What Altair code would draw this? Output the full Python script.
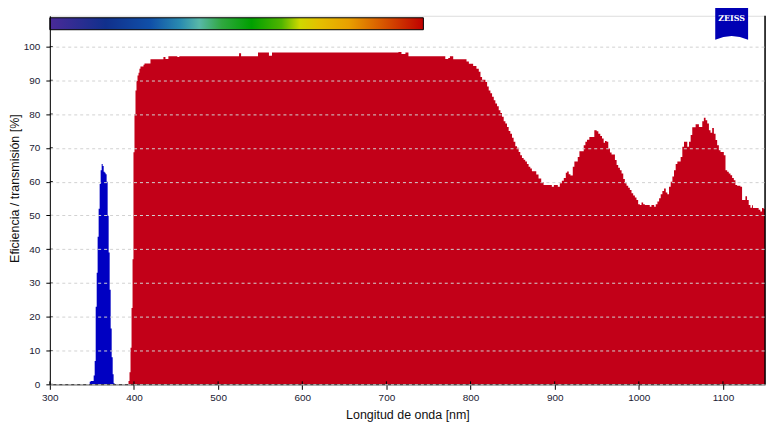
import altair as alt
import pandas as pd

# ---- data ----
red_nm = [393.5, 394.7, 395.9, 397.1, 398.3, 399.4, 400.6, 401.8, 403.0, 404.2, 405.4, 406.5, 407.7, 411.3,
          412.5, 419.6, 435.0, 437.4, 440.9, 451.5, 453.9, 524.9, 527.3, 547.4, 560.4, 564.0, 714.3, 717.9,
          722.6, 726.2, 770.0, 773.5, 775.5, 779.4, 795.2, 798.0, 803.1, 807.0, 809.8, 811.8, 813.7, 817.7,
          819.7, 821.6, 823.6, 825.6, 827.6, 829.5, 831.5, 833.5, 835.5, 837.4, 839.4, 841.4, 843.3, 845.3,
          847.3, 849.3, 851.2, 853.2, 855.2, 857.2, 859.1, 861.1, 863.1, 865.0, 867.0, 869.0, 871.0, 872.9,
          878.1, 880.8, 884.0, 886.8, 896.6, 899.0, 903.7, 906.1, 908.5, 910.8, 913.2, 914.8, 916.7, 918.7,
          921.5, 923.4, 927.4, 929.4, 934.5, 936.5, 938.4, 941.2, 947.1, 949.9, 951.9, 954.2, 956.2, 958.2,
          959.8, 961.7, 963.7, 965.7, 967.6, 971.6, 973.6, 975.5, 977.5, 979.5, 981.5, 983.4, 985.4, 987.4,
          989.3, 991.3, 993.3, 995.3, 997.2, 999.2, 1001.2, 1003.2, 1005.1, 1007.1, 1013.0, 1015.0, 1018.2,
          1020.1, 1022.1, 1024.1, 1026.0, 1028.0, 1030.0, 1032.0, 1033.9, 1035.9, 1037.9, 1039.9, 1041.8,
          1043.8, 1045.8, 1049.7, 1051.7, 1053.7, 1057.6, 1059.6, 1061.6, 1063.5, 1067.5, 1071.4, 1075.4,
          1077.3, 1079.3, 1081.3, 1083.3, 1085.2, 1087.2, 1089.2, 1091.2, 1093.1, 1095.1, 1097.1, 1101.0,
          1103.0, 1105.0, 1106.9, 1108.9, 1110.9, 1112.9, 1114.8, 1116.8, 1120.7, 1122.7, 1124.7, 1126.7,
          1128.6, 1130.6, 1132.6, 1134.6, 1135.7, 1142.4, 1144.4, 1146.4, 1148.4, 1150.0]
red_val = [1.0, 3.6, 10.8, 22.6, 37.0, 68.7, 80.0, 87.0, 89.8, 91.4, 92.2, 93.4, 94.1, 94.6,
           95.0, 96.2, 96.9, 96.3, 97.1, 96.9, 97.1, 98.0, 97.1, 98.2, 97.3, 98.2, 98.4, 97.8,
           98.2, 97.1, 96.3, 96.6, 97.1, 96.2, 95.6, 94.9, 94.2, 93.4, 92.5, 91.0, 90.2, 89.5,
           88.2, 87.0, 86.2, 85.1, 84.1, 83.1, 82.3, 81.1, 80.3, 79.2, 77.9, 77.2, 76.2, 75.0,
           74.2, 73.0, 71.8, 70.5, 70.0, 68.8, 67.8, 67.0, 66.5, 66.0, 65.2, 64.4, 63.9, 63.1,
           62.1, 60.9, 59.9, 59.0, 58.5, 59.0, 58.5, 59.5, 60.3, 61.1, 62.6, 63.0, 62.2, 61.8,
           64.4, 66.0, 67.3, 69.0, 70.8, 71.8, 72.4, 73.2, 75.2, 74.9, 74.2, 73.5, 72.8, 71.5,
           72.0, 71.8, 69.8, 68.6, 68.0, 66.4, 64.9, 64.1, 63.4, 62.4, 60.8, 59.5, 58.8, 58.2,
           57.5, 56.6, 55.9, 55.3, 54.6, 53.3, 53.1, 53.8, 53.3, 53.1, 52.6, 53.1, 52.6,
           53.3, 54.1, 55.1, 56.3, 57.2, 58.0, 56.8, 56.3, 58.5, 60.0, 61.5, 63.4,
           65.2, 66.0, 67.3, 70.3, 71.8, 70.3, 71.8, 73.8, 76.1, 77.0, 76.2, 77.9,
           78.9, 78.2, 77.2, 75.2, 74.5, 75.9, 74.2, 72.3, 70.8, 69.3, 68.8, 67.8,
           63.4, 62.9, 62.4, 61.9, 61.1, 60.4, 59.0, 58.8, 58.5, 54.6, 54.6, 55.7,
           54.6, 53.1, 52.3, 53.0, 52.2, 51.7, 51.2, 52.2, 51.9, 51.9]

blue_nm = [347.4, 348.5, 349.7, 350.9, 352.1, 353.3, 354.5, 355.7, 356.8, 358.0, 359.2, 360.4, 361.6,
           362.8, 364.0, 365.2, 366.3, 367.5, 368.7, 369.9, 371.1, 372.3, 373.5, 374.7, 375.8, 376.9]
blue_val = [0.8, 1.0, 1.0, 1.0, 2.6, 6.9, 23.0, 33.0, 43.7, 52.0, 59.3, 63.4, 65.2,
            64.6, 62.9, 62.6, 62.2, 60.0, 49.9, 39.0, 28.0, 16.5, 8.0, 3.0, 0.3, 0.0]

x_ticks = [300, 400, 500, 600, 700, 800, 900, 1000, 1100]
y_ticks = [0, 10, 20, 30, 40, 50, 60, 70, 80, 90, 100]

x_title = "Longitud de onda [nm]"
y_title = "Eficiencia / transmisión [%]"
logo_text = "ZEISS"

# ---- layout / style ----
W, H = 718, 370
FONT = "Liberation Sans"
TXT = "#1a1a33"
RED = "#c20018"
BLUE = "#0000c2"

red_df = pd.DataFrame({"nm": red_nm, "val": red_val})
blue_df = pd.DataFrame({"nm": blue_nm, "val": blue_val})
xt_df = pd.DataFrame({"nm": x_ticks})
yt_df = pd.DataFrame({"val": y_ticks})
one = pd.DataFrame({"a": [0]})

xscale = alt.Scale(domain=[300, 1150], nice=False, zero=False)
yscale = alt.Scale(domain=[0, 109.1], nice=False)

xaxis = alt.Axis(values=x_ticks, format="d", grid=False, domainColor="black", tickColor="black",
                 tickSize=5, labelPadding=3, labelFont=FONT, labelFontSize=10, labelColor=TXT,
                 labelOverlap=False, labelFlush=False,
                 title=x_title, titleFont=FONT, titleFontSize=12.5, titleFontWeight="normal",
                 titleColor="#111111", titlePadding=6)
yaxis = alt.Axis(values=y_ticks, format="d", grid=True, gridColor="#d2d2d2",
                 gridDash=[3, 3], domainColor="black", tickColor="black", tickSize=4, labelPadding=6,
                 labelFont=FONT, labelFontSize=10, labelColor=TXT,
                 labelOverlap=False, labelFlush=False,
                 title=y_title, titleFont=FONT, titleFontSize=12.5, titleFontWeight="normal",
                 titleColor="#111111", titleX=-35, titleY=173, titleAngle=-90,
                 titleAlign="center", titleBaseline="middle", zindex=1)

X = alt.X("nm:Q", scale=xscale, axis=xaxis)
Y = alt.Y("val:Q", scale=yscale, axis=yaxis)

red = alt.Chart(red_df).mark_area(color=RED, interpolate="step-after", clip=True).encode(x=X, y=Y)
blue = alt.Chart(blue_df).mark_area(color=BLUE, interpolate="step-after", clip=True).encode(x=X, y=Y)

xin = alt.Chart(xt_df).mark_rule(color="black").encode(
    x=X, y=alt.value(H - 3), y2=alt.value(H))
yin = alt.Chart(yt_df).mark_rule(color="black").encode(
    y=Y, x=alt.value(0), x2=alt.value(3))

right_border = alt.Chart(one).mark_rule(color="black", strokeWidth=1.5).encode(
    x=alt.value(W), y=alt.value(0), y2=alt.value(H))

grad = alt.Gradient(
    gradient="linear", x1=0, x2=1, y1=0, y2=0,
    stops=[
        alt.GradientStop(color="#4a2a98", offset=0.0),
        alt.GradientStop(color="#10308c", offset=0.15),
        alt.GradientStop(color="#1050a8", offset=0.27),
        alt.GradientStop(color="#2a8cb0", offset=0.35),
        alt.GradientStop(color="#58b8a8", offset=0.40),
        alt.GradientStop(color="#30a840", offset=0.46),
        alt.GradientStop(color="#00a000", offset=0.54),
        alt.GradientStop(color="#50b400", offset=0.62),
        alt.GradientStop(color="#d0d800", offset=0.67),
        alt.GradientStop(color="#e4c000", offset=0.72),
        alt.GradientStop(color="#e8a000", offset=0.80),
        alt.GradientStop(color="#d85800", offset=0.89),
        alt.GradientStop(color="#c00000", offset=1.0),
    ],
)
spectrum = alt.Chart(one).mark_rect(fill=grad, stroke="black", strokeWidth=1).encode(
    x=alt.value(0), x2=alt.value(375), y=alt.value(2), y2=alt.value(14))

logo_shape = "M-1,-1 L1,-1 L1,1 Q0,0.55 -1,1 Z"
logo = alt.Chart(one).mark_point(shape=logo_shape, filled=True, fill="#0000b4", opacity=1,
                                 strokeWidth=0, size=1089).encode(
    x=alt.value(684.5), y=alt.value(7.5))
logo_txt = alt.Chart(one).mark_text(text=logo_text, font="DejaVu Serif", fontWeight="bold",
                                    fontSize=8, color="white", align="center",
                                    baseline="middle").encode(
    x=alt.value(684.5), y=alt.value(3.5))

chart = alt.layer(red, blue, xin, yin, right_border, spectrum, logo, logo_txt).properties(
    width=W, height=H,
    autosize=alt.AutoSizeParams(type="none"),
    padding={"left": 42, "top": 7, "right": 10, "bottom": 38},
).configure_view(strokeWidth=0, stroke="transparent").configure(background="white")

chart.save("out.html", embed_options={"renderer": "svg", "actions": False})
